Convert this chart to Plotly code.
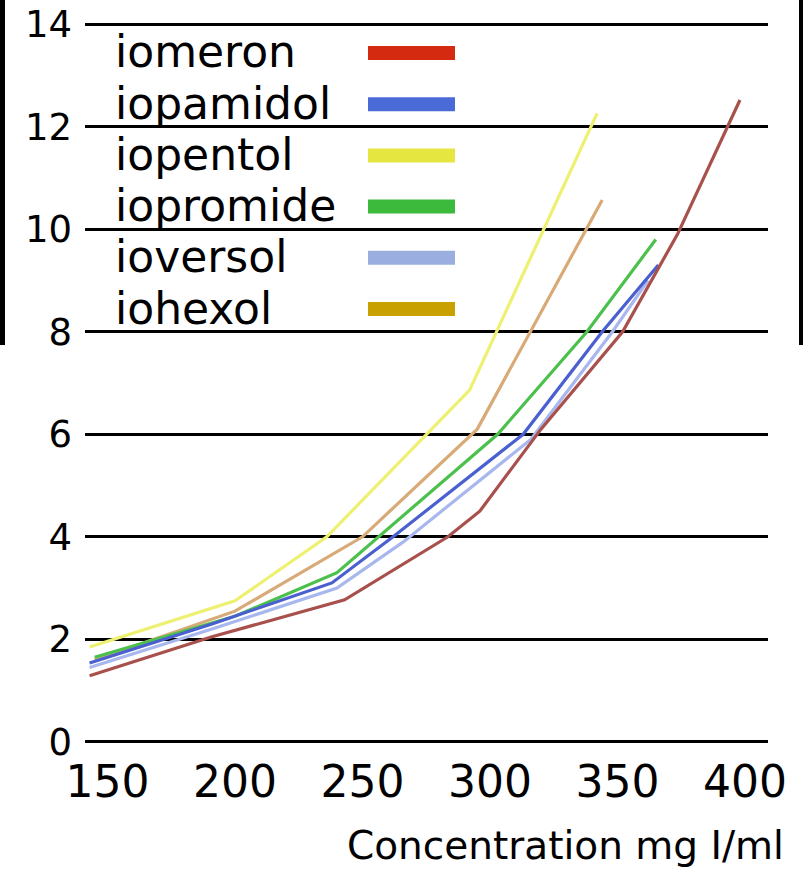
import plotly.graph_objects as go

# ---- data ----
series_names = ["iomeron", "iopamidol", "iopentol", "iopromide", "ioversol", "iohexol"]

x_iomeron = [143, 191, 243, 283.5, 296, 320, 352, 373.5, 398]
y_iomeron = [1.29, 2.05, 2.77, 4.0, 4.5, 6.1, 8.0, 9.9, 12.52]

x_iopamidol = [143, 191, 238, 262, 313, 344, 366]
y_iopamidol = [1.54, 2.3, 3.1, 4.0, 6.0, 8.0, 9.3]

x_iopentol = [143, 200, 236, 292, 342]
y_iopentol = [1.85, 2.75, 4.0, 6.86, 12.26]

x_iopromide = [145, 200, 240, 303, 338, 365]
y_iopromide = [1.65, 2.45, 3.3, 6.0, 8.0, 9.8]

x_ioversol = [143, 191, 240, 266, 316, 348, 362]
y_ioversol = [1.45, 2.2, 3.0, 3.9, 5.9, 8.0, 9.0]

x_iohexol = [145, 200, 250, 295, 344]
y_iohexol = [1.6, 2.55, 4.0, 6.1, 10.57]

x_ticks = [150, 200, 250, 300, 350, 400]
y_ticks = [0, 2, 4, 6, 8, 10, 12, 14]
x_title = "Concentration mg I/ml"

# ---- styles ----
line_colors = {
    "iomeron": "#a8504c",
    "iopamidol": "#4a5fd0",
    "iopentol": "#eef070",
    "iopromide": "#4cc04c",
    "ioversol": "#a8b8ee",
    "iohexol": "#d8aa78",
}
swatch_colors = {
    "iomeron": "#d42a10",
    "iopamidol": "#4a6ad8",
    "iopentol": "#e6e640",
    "iopromide": "#3cba3c",
    "ioversol": "#9aaee0",
    "iohexol": "#c8a000",
}
data = {
    "iomeron": (x_iomeron, y_iomeron),
    "iopamidol": (x_iopamidol, y_iopamidol),
    "iopentol": (x_iopentol, y_iopentol),
    "iopromide": (x_iopromide, y_iopromide),
    "ioversol": (x_ioversol, y_ioversol),
    "iohexol": (x_iohexol, y_iohexol),
}
draw_order = ["iohexol", "iopentol", "iopromide", "ioversol", "iopamidol", "iomeron"]

W, H = 803, 869
ML, MR, MT, MB = 85, 35, 19, 122
PW, PH = W - ML - MR, H - MT - MB


def px_x(px):
    return (px - ML) / PW


def px_y(py):
    return (H - MB - py) / PH


fig = go.Figure()
for name in draw_order:
    xs, ys = data[name]
    fig.add_trace(go.Scatter(x=xs, y=ys, mode="lines", name=name,
                             line=dict(color=line_colors[name], width=3.2),
                             showlegend=False))

FONT = "DejaVu Sans"
annotations = []
shapes = []
row0, step = 53, 51.2
for i, name in enumerate(series_names):
    cy = row0 + i * step
    annotations.append(dict(text=name, x=px_x(113), y=px_y(cy - 1), xref="paper", yref="paper",
                            xanchor="left", yanchor="middle", showarrow=False,
                            font=dict(family=FONT, size=44, color="black")))
    shapes.append(dict(type="line", xref="paper", yref="paper",
                       x0=px_x(368), x1=px_x(455), y0=px_y(cy), y1=px_y(cy),
                       line=dict(color=swatch_colors[name], width=14)))

annotations.append(dict(text=x_title, x=px_x(786), y=px_y(845), xref="paper", yref="paper",
                        xanchor="right", yanchor="middle", showarrow=False,
                        font=dict(family=FONT, size=39, color="black")))

# black border strips at the edges of the picture
shapes.append(dict(type="rect", xref="paper", yref="paper", x0=px_x(0), x1=px_x(5),
                   y0=px_y(345), y1=px_y(0), fillcolor="black", line=dict(width=0)))
shapes.append(dict(type="rect", xref="paper", yref="paper", x0=px_x(799), x1=px_x(803),
                   y0=px_y(345), y1=px_y(0), fillcolor="black", line=dict(width=0)))

fig.update_layout(
    width=W, height=H,
    margin=dict(l=ML, r=MR, t=MT, b=MB, pad=0, autoexpand=False),
    paper_bgcolor="white", plot_bgcolor="white",
    annotations=annotations, shapes=shapes,
    showlegend=False,
    xaxis=dict(range=[141.2, 409], tickvals=x_ticks, ticktext=[str(v) for v in x_ticks],
               showgrid=False, zeroline=False, showline=False, ticks="",
               automargin=False, ticklabelstandoff=5,
               tickfont=dict(family=FONT, size=44, color="black")),
    yaxis=dict(range=[-0.1, 14.1], tickvals=y_ticks, ticktext=[str(v) for v in y_ticks],
               showgrid=True, gridcolor="black", gridwidth=3, zeroline=False,
               showline=False, ticks="", automargin=False, ticklabelstandoff=12,
               tickfont=dict(family=FONT, size=37, color="black")),
)

fig.write_html("out.html", config={"displayModeBar": False},
               post_script="document.body.style.margin='0';")
